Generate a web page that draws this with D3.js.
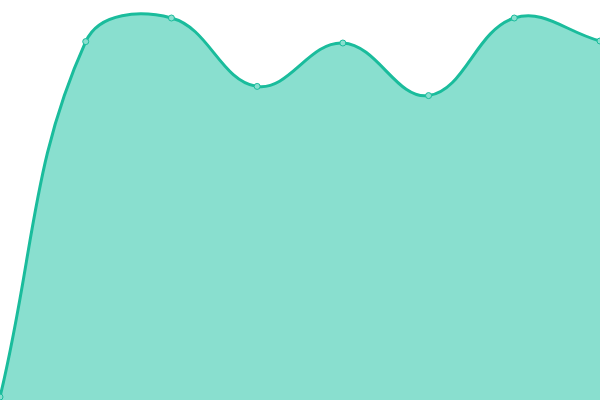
<!DOCTYPE html>
<html><head><meta charset="utf-8">
<script src="https://cdn.jsdelivr.net/npm/d3@7"></script>
<style>html,body{margin:0;padding:0;background:#fff;overflow:hidden}svg{display:block}</style>
</head><body>
<svg id="c" width="600" height="400"></svg>
<script>
const categories = [0, 1, 2, 3, 4, 5, 6, 7];
const values = [0.75, 89.6, 95.5, 78.4, 89.25, 76.1, 95.5, 89.75];
const W = 600, H = 400;
const TENSION = 0.4;

// Distance-weighted spline curve (tension-based), usable by d3.line / d3.area
function SplineCurve(context) { this._context = context; }
SplineCurve.prototype = {
  areaStart() { this._line = 0; },
  areaEnd() { this._line = NaN; },
  lineStart() { this._pts = []; },
  point(x, y) { this._pts.push([+x, +y]); },
  lineEnd() {
    const p = this._pts, n = p.length, ctx = this._context;
    if (!n) return;
    if (this._line) ctx.lineTo(p[0][0], p[0][1]); else ctx.moveTo(p[0][0], p[0][1]);
    const cp = p.map((m, i) => {
      const a = p[i - 1] || m, b = p[i + 1] || m;
      const d01 = Math.hypot(m[0] - a[0], m[1] - a[1]);
      const d12 = Math.hypot(b[0] - m[0], b[1] - m[1]);
      let s01 = d01 / (d01 + d12), s12 = d12 / (d01 + d12);
      if (!isFinite(s01)) s01 = 0; if (!isFinite(s12)) s12 = 0;
      const fa = TENSION * s01, fb = TENSION * s12;
      const cl = v => [Math.max(0, Math.min(W, v[0])), Math.max(0, Math.min(H, v[1]))];
      return {
        prev: cl([m[0] - fa * (b[0] - a[0]), m[1] - fa * (b[1] - a[1])]),
        next: cl([m[0] + fb * (b[0] - a[0]), m[1] + fb * (b[1] - a[1])])
      };
    });
    for (let i = 1; i < n; i++) {
      const c1 = cp[i - 1].next, c2 = cp[i].prev;
      ctx.bezierCurveTo(c1[0], c1[1], c2[0], c2[1], p[i][0], p[i][1]);
    }
    if (this._line || (this._line !== 0 && n === 1)) ctx.closePath();
    this._line = 1 - this._line;
  }
};
const splineCurve = ctx => new SplineCurve(ctx);

const svg = d3.select("#c");
const x = d3.scaleLinear().domain([0, categories.length - 1]).range([0, W]);
const y = d3.scaleLinear().domain([0, 100]).range([H, 0]);
const data = categories.map((c, i) => ({c, v: values[i]}));
const area = d3.area().x(d => x(d.c)).y0(H).y1(d => y(d.v)).curve(splineCurve);
const line = d3.line().x(d => x(d.c)).y(d => y(d.v)).curve(splineCurve);
svg.append("path").datum(data).attr("d", area).attr("fill", "#89dfcf");
svg.append("path").datum(data).attr("d", line).attr("fill", "none").attr("stroke", "#1abc9c").attr("stroke-width", 3);
svg.selectAll("circle").data(data).join("circle")
  .attr("cx", d => x(d.c)).attr("cy", d => y(d.v)).attr("r", 3)
  .attr("fill", "#89dfcf").attr("stroke", "#1abc9c").attr("stroke-width", 1);
</script>
</body></html>
